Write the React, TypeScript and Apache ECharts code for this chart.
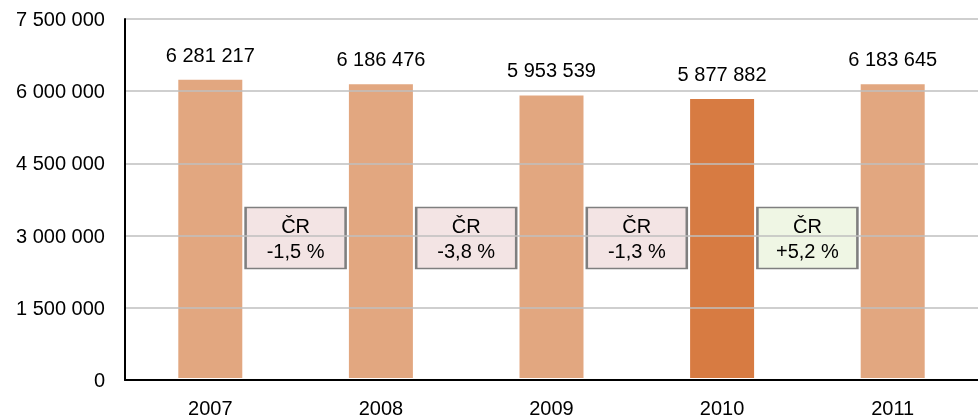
import React, { useEffect, useRef } from "react";
import * as echarts from "echarts";

const categories = ["2007", "2008", "2009", "2010", "2011"];
const values = [6281217, 6186476, 5953539, 5877882, 6183645];
const highlightIndex = 3;
const yTicks = { min: 0, max: 7500000, interval: 1500000 };
const changeLabels = ["-1,5 %", "-3,8 %", "-1,3 %", "+5,2 %"];
const changePositions = [1, 2, 3, 4];
const changeBoxY = 2950000;

const FONT = "Liberation Sans, Arial, sans-serif";
const fmt = (v: number) => String(v).replace(/\B(?=(\d{3})+(?!\d))/g, " ");

export default function App() {
  const ref = useRef<HTMLDivElement>(null);
  useEffect(() => {
    if (!ref.current) return;
    const chart = echarts.init(ref.current, undefined, { renderer: "svg" });
    chart.setOption({
      animation: false,
      textStyle: { fontFamily: FONT },
      grid: { left: 125, top: 19, width: 858, height: 362, containLabel: false },
      xAxis: [
        {
          type: "category",
          data: categories,
          z: 10,
          axisLine: { show: true, lineStyle: { color: "#000", width: 2 } },
          axisTick: { show: false },
          axisLabel: { color: "#000", fontSize: 20, fontFamily: FONT, margin: 18 },
        },
        {
          type: "value",
          min: 0,
          max: 5,
          show: false,
        },
      ],
      yAxis: {
        type: "value",
        min: yTicks.min,
        max: yTicks.max,
        interval: yTicks.interval,
        z: 10,
        axisLine: { show: true, lineStyle: { color: "#000", width: 2 } },
        axisTick: { show: false },
        axisLabel: {
          color: "#000",
          fontSize: 20,
          fontFamily: FONT,
          margin: 20,
          formatter: (v: number) => fmt(v),
        },
        splitLine: { show: true, lineStyle: { color: "#BFBFBF", width: 1.5 } },
      },
      series: [
        {
          type: "bar",
          xAxisIndex: 0,
          barWidth: 68,
          data: values.map((v, i) => ({
            value: v,
            itemStyle: {
              color: i === highlightIndex ? "#D77B42" : "#E2A780",
              borderColor: "#fff",
              borderWidth: 2,
            },
          })),
          label: {
            show: true,
            position: "top",
            distance: 13,
            color: "#000",
            fontSize: 20,
            fontFamily: FONT,
            formatter: (p: any) => fmt(p.value),
          },
        },
        {
          type: "scatter",
          xAxisIndex: 1,
          symbol: "rect",
          symbolSize: [100, 61],
          z: 5,
          data: changeLabels.map((t, i) => ({
            value: [changePositions[i], changeBoxY],
            name: t,
            itemStyle: {
              color: t.startsWith("+") ? "#EFF6E4" : "#F3E4E4",
              borderColor: "#7F7F7F",
              borderWidth: 2,
              opacity: 1,
            },
          })),
          label: {
            show: true,
            position: "inside",
            color: "#000",
            fontSize: 20,
            lineHeight: 25,
            fontFamily: FONT,
            formatter: (p: any) => "ČR\n" + p.name,
          },
          emphasis: { disabled: true },
        },
      ],
    });
    return () => chart.dispose();
  }, []);
  return (
    <div
      ref={ref}
      style={{ position: "fixed", left: 0, top: 0, width: 978, height: 418 }}
    />
  );
}
